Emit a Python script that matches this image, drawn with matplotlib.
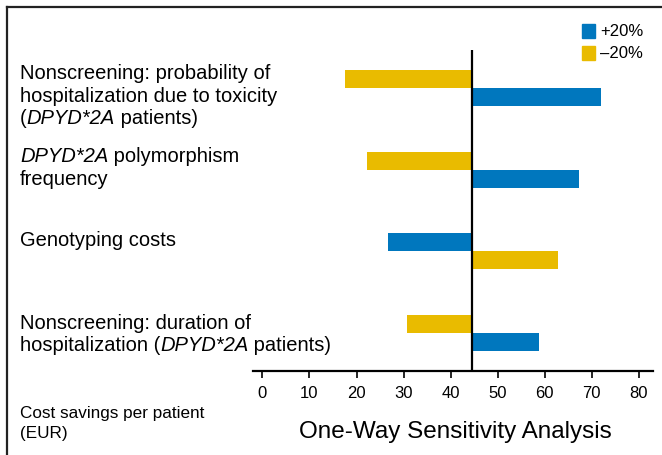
import matplotlib
matplotlib.use('Agg')
import matplotlib.pyplot as plt
from matplotlib.lines import Line2D
from matplotlib.patches import Rectangle

# データ
params = ['Nonscreening: probability of hospitalization due to toxicity (DPYD*2A patients)',
          'DPYD*2A polymorphism frequency',
          'Genotyping costs',
          'Nonscreening: duration of hospitalization (DPYD*2A patients)']
base = 44.6
plus20 = [71.9, 67.2, 26.7, 58.8]
minus20 = [17.6, 22.2, 62.8, 30.7]
xticks = [0, 10, 20, 30, 40, 50, 60, 70, 80]

BLUE = '#0077be'
YELLOW = '#e9bb00'
W, H = 662, 456

plt.rcParams['font.family'] = ['Liberation Sans', 'DejaVu Sans']

fig = plt.figure(figsize=(W / 100, H / 100), dpi=100)
ax = fig.add_axes([253 / W, 1 - 372 / H, 400 / W, 321 / H])

bh = 0.22
for i in range(len(params)):
    # 値の小さい方を上に
    p_off = bh / 2 if plus20[i] >= minus20[i] else -bh / 2
    ax.barh(i + p_off, plus20[i] - base, left=base, height=bh, color=BLUE)
    ax.barh(i - p_off, minus20[i] - base, left=base, height=bh, color=YELLOW)

ax.axvline(base, color='black', lw=1.6)
ax.set_xlim(-2, 83)
ax.set_ylim(3.464, -0.465)
ax.set_yticks([])
ax.set_xticks(xticks)
ax.set_xticklabels([str(t) for t in xticks], fontsize=12)
ax.tick_params(axis='x', length=5, width=1.2, pad=5)
for s in ['top', 'right', 'left']:
    ax.spines[s].set_visible(False)
ax.spines['bottom'].set_linewidth(1.6)

renderer = fig.canvas.get_renderer()


def rich(x, y, parts, size=14.5):
    # 斜体を混ぜたテキストを順に並べる
    for s, st in parts:
        t = fig.text(x / W, 1 - y / H, s, style=st, fontsize=size, va='baseline', ha='left')
        x += t.get_window_extent(renderer).width


n, it = 'normal', 'italic'
rich(20, 79, [('Nonscreening: probability of', n)])
rich(20, 101.5, [('hospitalization due to toxicity', n)])
rich(20, 124, [('(', n), ('DPYD*2A', it), (' patients)', n)])
rich(20, 162.5, [('DPYD*2A', it), (' polymorphism', n)])
rich(20, 185, [('frequency', n)])
rich(20, 246, [('Genotyping costs', n)])
rich(20, 329, [('Nonscreening: duration of', n)])
rich(20, 351, [('hospitalization (', n), ('DPYD*2A', it), (' patients)', n)])

fig.text(20 / W, 1 - 418 / H, 'Cost savings per patient', fontsize=12.3, va='baseline')
fig.text(20 / W, 1 - 438 / H, '(EUR)', fontsize=12.3, va='baseline')
fig.text(455 / W, 1 - 438 / H, 'One-Way Sensitivity Analysis',
         fontsize=17.5, ha='center', va='baseline')

# 凡例
for yy, c, lab in [(25, BLUE, '+20%'), (47, YELLOW, '\u201320%')]:
    fig.patches.append(Rectangle((582 / W, 1 - (yy + 14) / H), 13 / W, 14 / H,
                                 color=c, transform=fig.transFigure))
    fig.text(600 / W, 1 - (yy + 7) / H, lab, fontsize=12, va='center')

# 外枠
fig.add_artist(Line2D([6.5 / W, 6.5 / W], [0, 1 - 8 / H], color='#222222', lw=1.6))
fig.add_artist(Line2D([6.5 / W, 1], [1 - 8 / H, 1 - 8 / H], color='#222222', lw=1.6))

fig.savefig('out.png', dpi=100)
